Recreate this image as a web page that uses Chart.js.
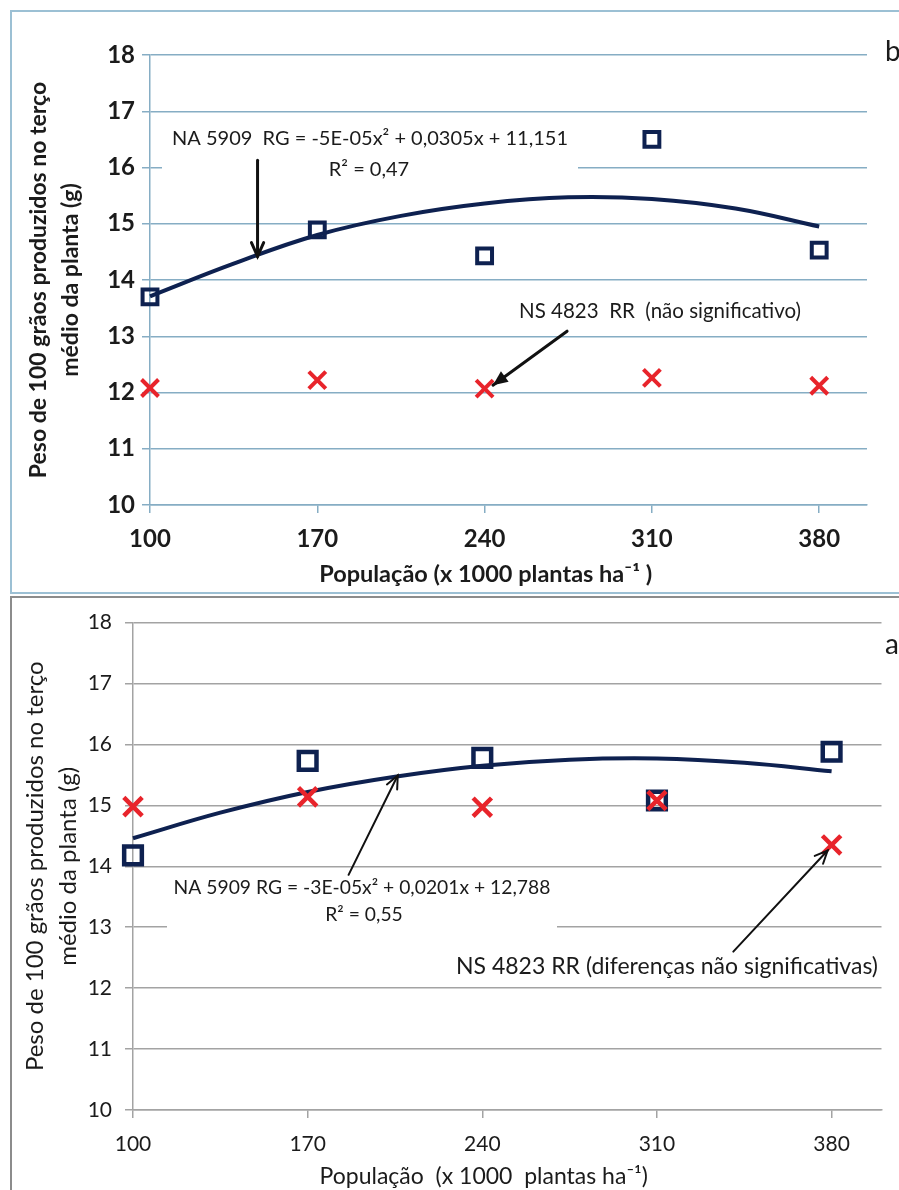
<!DOCTYPE html>
<html>
<head>
<meta charset="utf-8">
<script src="https://cdn.jsdelivr.net/npm/chart.js@4.4.1/dist/chart.umd.min.js"></script>
<style>
  body { margin: 0; background: #fff; width: 899px; height: 1190px; overflow: hidden; position: relative; }
  .moldura { position: absolute; box-sizing: border-box; }
  #molduraB { left: 10px; top: 10px; width: 900px; height: 584px; border: 2px solid #9cc0d4; }
  #molduraA { left: 10px; top: 596px; width: 900px; height: 600px; border: 2px solid #8c8c8c; }
  canvas { position: absolute; left: 0; }
  #graficoB { top: 0; }
  #graficoA { top: 597px; }
</style>
</head>
<body>
<div class="moldura" id="molduraB"></div>
<div class="moldura" id="molduraA"></div>
<canvas id="graficoB" width="899" height="593"></canvas>
<canvas id="graficoA" width="899" height="593"></canvas>
<script>
// populações testadas (x 1000 plantas/ha)
var populacao = [100, 170, 240, 310, 380];
var yTicks = [10, 11, 12, 13, 14, 15, 16, 17, 18];

var curvaX = [100, 135, 170, 205, 240, 275, 310, 345, 380];

// gráfico b
var naB = [13.70, 14.89, 14.43, 16.50, 14.53];
var nsB = [12.08, 12.22, 12.07, 12.26, 12.12];
var curvaB = [13.71, 14.29, 14.80, 15.14, 15.36, 15.47, 15.44, 15.27, 14.95];

// gráfico a
var naA = [14.18, 15.73, 15.78, 15.08, 15.88];
var nsA = [14.98, 15.14, 14.97, 15.08, 14.35];
var curvaA = [14.46, 14.88, 15.22, 15.47, 15.65, 15.75, 15.77, 15.70, 15.56];

var tituloY = ['Peso de 100 grãos produzidos no terço', 'médio da planta (g)'];
var azul = '#0e2150';
var vermelho = '#e8242b';

Chart.defaults.font.family = 'Lato, "Open Sans", sans-serif';
Chart.defaults.color = '#1b1b1b';

function pares(xs, ys) {
  return xs.map(function (x, i) { return { x: x, y: ys[i] }; });
}

function seta(ctx, x1, y1, x2, y2, larg, ponta, cheia) {
  var ang = Math.atan2(y2 - y1, x2 - x1);
  ctx.save();
  ctx.strokeStyle = '#111';
  ctx.fillStyle = '#111';
  ctx.lineWidth = larg;
  ctx.lineCap = 'round';
  ctx.beginPath();
  ctx.moveTo(x1, y1);
  ctx.lineTo(x2, y2);
  ctx.stroke();
  var a1 = ang + Math.PI - 0.42, a2 = ang + Math.PI + 0.42;
  ctx.beginPath();
  ctx.moveTo(x2 + ponta * Math.cos(a1), y2 + ponta * Math.sin(a1));
  ctx.lineTo(x2, y2);
  ctx.lineTo(x2 + ponta * Math.cos(a2), y2 + ponta * Math.sin(a2));
  if (cheia) { ctx.closePath(); ctx.fill(); } else { ctx.stroke(); }
  ctx.restore();
}

// textos e setas de cada gráfico
var notas = {
  id: 'notas',
  beforeDatasetsDraw: function (chart, args, opts) {
    var ctx = chart.ctx;
    ctx.save();
    (opts.textos || []).forEach(function (t) {
      if (t.caixa) {
        ctx.fillStyle = '#fff';
        ctx.fillRect(t.caixa[0], t.caixa[1], t.caixa[2], t.caixa[3]);
      }
      ctx.font = t.fonte;
      ctx.fillStyle = '#1b1b1b';
      ctx.textAlign = t.alinha || 'center';
      ctx.textBaseline = 'middle';
      ctx.fillText(t.texto, t.x, t.y);
    });
    ctx.restore();
  },
  afterDatasetsDraw: function (chart, args, opts) {
    var sx = chart.scales.x, sy = chart.scales.y;
    (opts.setas || []).forEach(function (s) {
      seta(chart.ctx,
        sx.getPixelForValue(s.de[0]), sy.getPixelForValue(s.de[1]),
        sx.getPixelForValue(s.para[0]), sy.getPixelForValue(s.para[1]),
        s.larg, s.ponta, s.cheia);
    });
  }
};

function montar(id, cfg) {
  return new Chart(document.getElementById(id), {
    type: 'scatter',
    data: {
      datasets: [
        {
          label: 'NS 4823 RR',
          data: pares(populacao, cfg.ns),
          pointStyle: 'crossRot',
          pointRadius: cfg.raioX,
          pointBorderWidth: cfg.traco,
          borderColor: vermelho,
          backgroundColor: vermelho,
          clip: false,
          order: 0
        },
        {
          label: 'NA 5909 RG',
          data: pares(populacao, cfg.na),
          pointStyle: 'rect',
          pointRadius: cfg.raioQ,
          pointBorderWidth: cfg.traco,
          borderColor: azul,
          backgroundColor: 'rgba(0,0,0,0)',
          clip: false,
          order: 1
        },
        {
          label: 'tendência NA 5909 RG',
          data: pares(curvaX, cfg.curva),
          showLine: true,
          pointRadius: 0,
          borderColor: azul,
          borderWidth: 4,
          tension: 0.4,
          clip: false,
          order: 2
        }
      ]
    },
    options: {
      responsive: false,
      animation: false,
      events: [],
      layout: { padding: cfg.padding },
      plugins: {
        legend: { display: false },
        tooltip: { enabled: false },
        notas: { textos: cfg.textos, setas: cfg.setas }
      },
      scales: {
        x: {
          type: 'linear',
          min: 100,
          max: 400,
          afterBuildTicks: function (s) { s.ticks = populacao.map(function (v) { return { value: v }; }); },
          afterFit: function (s) { s.height = cfg.alturaX; },
          grid: { drawOnChartArea: false, drawTicks: true, tickLength: 8, tickColor: cfg.corGrade, lineWidth: 1.5 },
          border: { color: cfg.corGrade, width: 1.5 },
          ticks: { font: cfg.fonteTick, padding: cfg.padX, color: '#1b1b1b', maxRotation: 0 },
          title: { display: true, text: cfg.tituloX, font: cfg.fonteTitulo, padding: { top: 0, bottom: cfg.padTituloX }, color: '#1b1b1b' }
        },
        y: {
          min: 10,
          max: 18,
          afterBuildTicks: function (s) { s.ticks = yTicks.map(function (v) { return { value: v }; }); },
          afterFit: function (s) { s.width = cfg.larguraY; },
          grid: { color: cfg.corGrade, lineWidth: 1.5, tickLength: 8 },
          border: { color: cfg.corGrade, width: 1.5 },
          ticks: { font: cfg.fonteTick, padding: cfg.padY, color: '#1b1b1b' },
          title: { display: true, text: tituloY, font: cfg.fonteTituloY, padding: { top: 2, bottom: 0 }, color: '#1b1b1b' }
        }
      }
    },
    plugins: [notas]
  });
}

montar('graficoB', {
  na: naB, ns: nsB, curva: curvaB,
  raioQ: 10.5, raioX: 12, traco: 4,
  padding: { left: 20, top: 55, right: 32, bottom: 0 },
  larguraY: 130, alturaX: 88, padX: 12, padY: 7, padTituloX: 4,
  corGrade: '#86adc4',
  fonteTick: { family: 'Lato', size: 24, weight: 'bold' },
  fonteTitulo: { family: 'Lato', size: 23.5, weight: 'bold' },
  fonteTituloY: { family: 'Lato', size: 23, weight: 'bold', lineHeight: 1.4 },
  tituloX: 'População (x 1000 plantas ha⁻¹ )\u00a0\u00a0\u00a0\u00a0\u00a0\u00a0\u00a0\u00a0',
  textos: [
    { texto: 'NA 5909  RG = -5E-05x² + 0,0305x + 11,151', x: 370, y: 139, fonte: '20px Lato', caixa: [162, 124, 416, 62] },
    { texto: 'R² = 0,47', x: 369, y: 170, fonte: '20px Lato' },
    { texto: 'NS 4823  RR  (não significativo)', x: 660, y: 311, fonte: '20.5px Lato', caixa: [512, 298, 298, 26] },
    { texto: 'b', x: 885, y: 52, fonte: '28px Lato', alinha: 'left' }
  ],
  setas: [
    { de: [145, 16.13], para: [145, 14.42], larg: 3, ponta: 15, cheia: false },
    { de: [274.5, 13.09], para: [243.5, 12.13], larg: 3, ponta: 16, cheia: true }
  ]
});

montar('graficoA', {
  na: naA, ns: nsA, curva: curvaA,
  raioQ: 12.5, raioX: 13, traco: 4.5,
  padding: { left: 17, top: 15, right: 17, bottom: 0 },
  larguraY: 116, alturaX: 80, padX: 14, padY: 13, padTituloX: 0,
  corGrade: '#a3a3a3',
  fonteTick: { family: 'Lato', size: 21 },
  fonteTitulo: { family: 'Lato', size: 23 },
  fonteTituloY: { family: 'Lato', size: 24, lineHeight: 1.38 },
  tituloX: 'População  (x 1000  plantas ha⁻¹)\u00a0\u00a0\u00a0\u00a0\u00a0\u00a0\u00a0\u00a0',
  textos: [
    { texto: 'NA 5909 RG = -3E-05x² + 0,0201x + 12,788', x: 362, y: 291, fonte: '19.3px Lato', caixa: [167, 276, 390, 57] },
    { texto: 'R² = 0,55', x: 364, y: 318, fonte: '19.3px Lato' },
    { texto: 'NS 4823 RR (diferenças não significativas)', x: 667, y: 370, fonte: '23px Lato' },
    { texto: 'a', x: 885, y: 48, fonte: '28px Lato', alinha: 'left' }
  ],
  setas: [
    { de: [186.4, 13.86], para: [206.1, 15.49], larg: 2, ponta: 14, cheia: false },
    { de: [340.6, 12.60], para: [378.4, 14.26], larg: 2, ponta: 14, cheia: false }
  ]
});
</script>
</body>
</html>
